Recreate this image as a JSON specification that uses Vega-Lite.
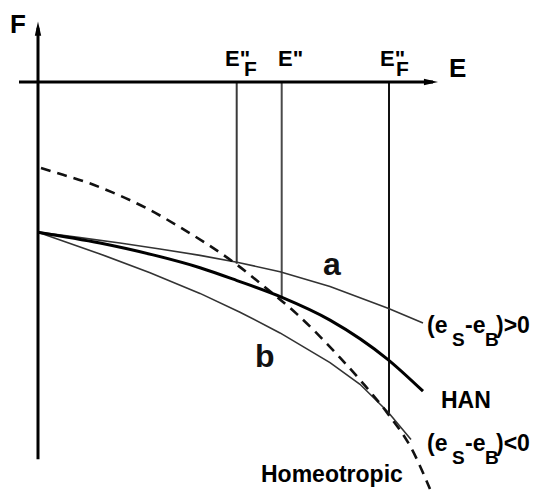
{
  "$schema": "https://vega.github.io/schema/vega-lite/v6.json",
  "width": 538,
  "height": 495,
  "autosize": {"type": "fit", "contains": "padding"},
  "padding": 0,
  "background": "white",
  "config": {"view": {"stroke": null}, "text": {"font": "Liberation Sans"}},
  "datasets": {
    "axes": [
      {"E": 0, "F": -3.82, "E2": 0, "F2": 0.55},
      {"E": -0.19, "F": 0, "E2": 3.95, "F2": 0}
    ],
    "guides": [
      {"name": "E''F low", "E": 1.987, "F": 0, "F2": -1.84},
      {"name": "E''", "E": 2.437, "F": 0, "F2": -2.19},
      {"name": "E''F high", "E": 3.51, "F": 0, "F2": -3.35}
    ],
    "arrows": [
      {"dir": "up", "E": 0, "F": 0.54},
      {"dir": "right", "E": 3.93, "F": 0}
    ],
    "curves": [
      {"curve": "a", "E": 0.0, "F": -1.52},
      {"curve": "a", "E": 0.42, "F": -1.575},
      {"curve": "a", "E": 0.82, "F": -1.63},
      {"curve": "a", "E": 1.22, "F": -1.69},
      {"curve": "a", "E": 1.62, "F": -1.755},
      {"curve": "a", "E": 1.99, "F": -1.825},
      {"curve": "a", "E": 2.42, "F": -1.92},
      {"curve": "a", "E": 2.92, "F": -2.07},
      {"curve": "a", "E": 3.5, "F": -2.29},
      {"curve": "a", "E": 3.85, "F": -2.44},
      {"curve": "HAN", "E": 0.0, "F": -1.52},
      {"curve": "HAN", "E": 0.62, "F": -1.63},
      {"curve": "HAN", "E": 1.15, "F": -1.75},
      {"curve": "HAN", "E": 1.62, "F": -1.88},
      {"curve": "HAN", "E": 1.99, "F": -2.01},
      {"curve": "HAN", "E": 2.44, "F": -2.18},
      {"curve": "HAN", "E": 2.92, "F": -2.41},
      {"curve": "HAN", "E": 3.5, "F": -2.81},
      {"curve": "HAN", "E": 3.85, "F": -3.13},
      {"curve": "b", "E": 0.0, "F": -1.52},
      {"curve": "b", "E": 0.62, "F": -1.74},
      {"curve": "b", "E": 1.12, "F": -1.93},
      {"curve": "b", "E": 1.62, "F": -2.14},
      {"curve": "b", "E": 2.02, "F": -2.33},
      {"curve": "b", "E": 2.42, "F": -2.54},
      {"curve": "b", "E": 2.92, "F": -2.84},
      {"curve": "b", "E": 3.22, "F": -3.06},
      {"curve": "b", "E": 3.5, "F": -3.34},
      {"curve": "b", "E": 3.73, "F": -3.62},
      {"curve": "Homeotropic", "E": 0.03, "F": -0.87},
      {"curve": "Homeotropic", "E": 0.25, "F": -0.94},
      {"curve": "Homeotropic", "E": 0.5, "F": -1.02},
      {"curve": "Homeotropic", "E": 0.75, "F": -1.12},
      {"curve": "Homeotropic", "E": 1.09, "F": -1.28},
      {"curve": "Homeotropic", "E": 1.42, "F": -1.47},
      {"curve": "Homeotropic", "E": 1.69, "F": -1.64},
      {"curve": "Homeotropic", "E": 1.95, "F": -1.82},
      {"curve": "Homeotropic", "E": 2.25, "F": -2.06},
      {"curve": "Homeotropic", "E": 2.59, "F": -2.35},
      {"curve": "Homeotropic", "E": 3.02, "F": -2.79},
      {"curve": "Homeotropic", "E": 3.25, "F": -3.05},
      {"curve": "Homeotropic", "E": 3.5, "F": -3.36},
      {"curve": "Homeotropic", "E": 3.74, "F": -3.72},
      {"curve": "Homeotropic", "E": 3.92, "F": -4.12}
    ],
    "labels": [
      {"role": "axis", "text": "F", "E": -0.28, "F": 0.50},
      {"role": "axis", "text": "E", "E": 4.11, "F": 0.05},
      {"role": "field", "text": "E\"", "E": 1.87, "F": 0.16},
      {"role": "field", "text": "E\"", "E": 2.40, "F": 0.16},
      {"role": "field", "text": "E\"", "E": 3.42, "F": 0.16},
      {"role": "fieldsub", "text": "F", "E": 2.06, "F": 0.06},
      {"role": "fieldsub", "text": "F", "E": 3.58, "F": 0.06},
      {"role": "main", "text": "(e", "E": 3.89, "F": -2.54},
      {"role": "main", "text": "-e", "E": 4.27, "F": -2.54},
      {"role": "main", "text": ")>0", "E": 4.58, "F": -2.54},
      {"role": "main", "text": "(e", "E": 3.89, "F": -3.74},
      {"role": "main", "text": "-e", "E": 4.27, "F": -3.74},
      {"role": "main", "text": ")<0", "E": 4.58, "F": -3.74},
      {"role": "main", "text": "HAN", "E": 4.03, "F": -3.30},
      {"role": "main", "text": "Homeotropic", "E": 2.23, "F": -4.05},
      {"role": "sub", "text": "S", "E": 4.14, "F": -2.67},
      {"role": "sub", "text": "B", "E": 4.47, "F": -2.67},
      {"role": "sub", "text": "S", "E": 4.14, "F": -3.87},
      {"role": "sub", "text": "B", "E": 4.47, "F": -3.87},
      {"role": "letter", "text": "a", "E": 2.85, "F": -1.95},
      {"role": "letter", "text": "b", "E": 2.17, "F": -2.89}
    ]
  },
  "encoding": {
    "x": {"field": "E", "type": "quantitative", "scale": {"domain": [-0.38, 5.0], "nice": false, "zero": false}, "axis": null},
    "y": {"field": "F", "type": "quantitative", "scale": {"domain": [-4.12, 0.83], "nice": false, "zero": false}, "axis": null}
  },
  "layer": [
    {
      "data": {"name": "guides"},
      "mark": {"type": "rule"},
      "encoding": {
        "y2": {"field": "F2"},
        "strokeWidth": {"field": "name", "type": "nominal", "scale": {"domain": ["E''F low", "E''", "E''F high"], "range": [2, 2, 2.6]}, "legend": null},
        "color": {"field": "name", "type": "nominal", "scale": {"domain": ["E''F low", "E''", "E''F high"], "range": ["#3a3a3a", "#4a4a4a", "#111111"]}, "legend": null}
      }
    },
    {
      "data": {"name": "curves"},
      "transform": [{"filter": "datum.curve === 'a' || datum.curve === 'b'"}],
      "mark": {"type": "line", "color": "#333333", "strokeWidth": 1.6},
      "encoding": {"detail": {"field": "curve"}}
    },
    {
      "data": {"name": "curves"},
      "transform": [{"filter": "datum.curve === 'Homeotropic'"}],
      "mark": {"type": "line", "color": "#111111", "strokeWidth": 2.6, "strokeDash": [10, 7], "interpolate": "monotone"},
      "encoding": {}
    },
    {
      "data": {"name": "curves"},
      "transform": [{"filter": "datum.curve === 'HAN'"}],
      "mark": {"type": "line", "color": "#000000", "strokeWidth": 3, "interpolate": "monotone"},
      "encoding": {}
    },
    {
      "data": {"name": "axes"},
      "mark": {"type": "rule", "color": "#000000", "strokeWidth": 3},
      "encoding": {"x2": {"field": "E2"}, "y2": {"field": "F2"}}
    },
    {
      "data": {"name": "arrows"},
      "transform": [{"filter": "datum.dir === 'up'"}],
      "mark": {"type": "point", "shape": "M0,-1L0.45,1L-0.45,1Z", "size": 200, "filled": true, "color": "#000000", "opacity": 1}
    },
    {
      "data": {"name": "arrows"},
      "transform": [{"filter": "datum.dir === 'right'"}],
      "mark": {"type": "point", "shape": "M1,0L-1,-0.45L-1,0.45Z", "size": 200, "filled": true, "color": "#000000", "opacity": 1}
    },
    {
      "data": {"name": "labels"},
      "transform": [{"filter": "datum.role === 'axis'"}],
      "mark": {"type": "text", "align": "left", "baseline": "alphabetic", "fontSize": 26, "fontWeight": "bold", "color": "#000000"},
      "encoding": {"text": {"field": "text"}}
    },
    {
      "data": {"name": "labels"},
      "transform": [{"filter": "datum.role === 'field'"}],
      "mark": {"type": "text", "align": "left", "baseline": "alphabetic", "fontSize": 22, "fontWeight": "bold", "color": "#000000"},
      "encoding": {"text": {"field": "text"}}
    },
    {
      "data": {"name": "labels"},
      "transform": [{"filter": "datum.role === 'fieldsub'"}],
      "mark": {"type": "text", "align": "left", "baseline": "alphabetic", "fontSize": 21, "fontWeight": "bold", "color": "#000000"},
      "encoding": {"text": {"field": "text"}}
    },
    {
      "data": {"name": "labels"},
      "transform": [{"filter": "datum.role === 'main'"}],
      "mark": {"type": "text", "align": "left", "baseline": "alphabetic", "fontSize": 23, "fontWeight": "bold", "color": "#000000"},
      "encoding": {"text": {"field": "text"}}
    },
    {
      "data": {"name": "labels"},
      "transform": [{"filter": "datum.role === 'sub'"}],
      "mark": {"type": "text", "align": "left", "baseline": "alphabetic", "fontSize": 19, "fontWeight": "bold", "color": "#000000"},
      "encoding": {"text": {"field": "text"}}
    },
    {
      "data": {"name": "labels"},
      "transform": [{"filter": "datum.role === 'letter'"}],
      "mark": {"type": "text", "align": "left", "baseline": "alphabetic", "fontSize": 32, "fontWeight": "bold", "color": "#111111"},
      "encoding": {"text": {"field": "text"}}
    }
  ]
}
